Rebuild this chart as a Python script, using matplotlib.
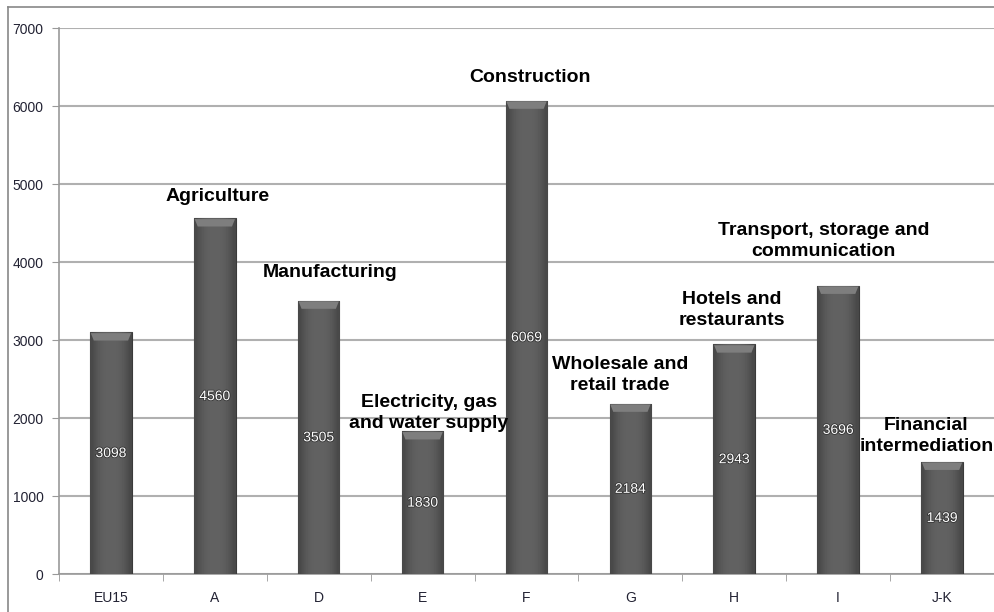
import numpy as np
import matplotlib.pyplot as plt
from matplotlib.patheffects import withStroke

plt.rcParams['font.family'] = ['Liberation Sans', 'DejaVu Sans']

# dados
categorias = ['EU15', 'A', 'D', 'E', 'F', 'G', 'H', 'I', 'J-K']
valores = [3098, 4560, 3505, 1830, 6069, 2184, 2943, 3696, 1439]

setores = ['Agriculture', 'Manufacturing', 'Electricity, gas\nand water supply',
           'Construction', 'Wholesale and\nretail trade', 'Hotels and\nrestaurants',
           'Transport, storage and\ncommunication', 'Financial\nintermediation']
setores_x = [1.03, 2.11, 3.06, 4.03, 4.90, 5.98, 6.86, 7.85]
setores_y = [4846, 3859, 2064, 6359, 2551, 3385, 4269, 1769]

fig = plt.figure(figsize=(9.95, 6.12), dpi=100)
ax = fig.add_axes([59/995, 1 - 574/612, 935/995, 546/612])

x = np.arange(len(categorias))
barras = ax.bar(x, valores, width=0.40, color='#5e5e5e', edgecolor='#3a3a3a',
                linewidth=0.8, zorder=3)

# gradiente cilindrico em cada barra
grad = np.array([0.28, 0.34, 0.37, 0.38, 0.385, 0.38, 0.37, 0.34, 0.28])
img = np.tile(grad, (2, 1))
for b in barras:
    x0, w, h = b.get_x(), b.get_width(), b.get_height()
    im = ax.imshow(img, extent=[x0, x0 + w, 0, h], aspect='auto', cmap='gray',
                   vmin=0, vmax=1, zorder=3.5, interpolation='bicubic')
    im.set_clip_path(b)
    # chanfro no topo
    ax.fill([x0 + 0.006, x0 + w - 0.006, x0 + w - 0.035, x0 + 0.035],
            [h - 10, h - 10, h - 105, h - 105], color='#7e7e7e', zorder=3.6,
            linewidth=0)
    ax.text(b.get_x() + w / 2, h / 2, str(int(h)), ha='center', va='center',
            color='white', fontsize=10, zorder=5,
            path_effects=[withStroke(linewidth=1.2, foreground='#333333')])

for s, sx, sy in zip(setores, setores_x, setores_y):
    ax.text(sx, sy, s, ha='center', va='center', fontsize=14,
            fontweight='bold', color='black', linespacing=1.3, zorder=6)

ax.set_xlim(-0.5, len(categorias) - 0.5)
ax.set_ylim(0, 7000)
ax.set_yticks(range(0, 7001, 1000))
ax.set_xticks(x)
ax.set_xticklabels(categorias)
ax.set_xticks(np.arange(-0.5, len(categorias), 1.0), minor=True)
ax.tick_params(axis='x', which='major', length=0, pad=12, labelsize=10,
               labelcolor='#222233')
ax.tick_params(axis='x', which='minor', length=5, color='#999999')
ax.tick_params(axis='y', length=5, color='#999999', labelsize=10,
               labelcolor='#222233', pad=6)
ax.yaxis.grid(True, color='#b0b0b0', linewidth=1.5, zorder=0)
ax.set_axisbelow(True)
for lado in ['top', 'right']:
    ax.spines[lado].set_visible(False)
for lado in ['left', 'bottom']:
    ax.spines[lado].set_color('#999999')
    ax.spines[lado].set_linewidth(1.2)

# moldura da figura
fig.add_artist(plt.Line2D([8/995, 8/995], [0, 1 - 7/612], color='#888888',
                          linewidth=1.2, transform=fig.transFigure))
fig.add_artist(plt.Line2D([8/995, 1], [1 - 7/612, 1 - 7/612], color='#888888',
                          linewidth=1.2, transform=fig.transFigure))

fig.savefig('out.png', dpi=100)
